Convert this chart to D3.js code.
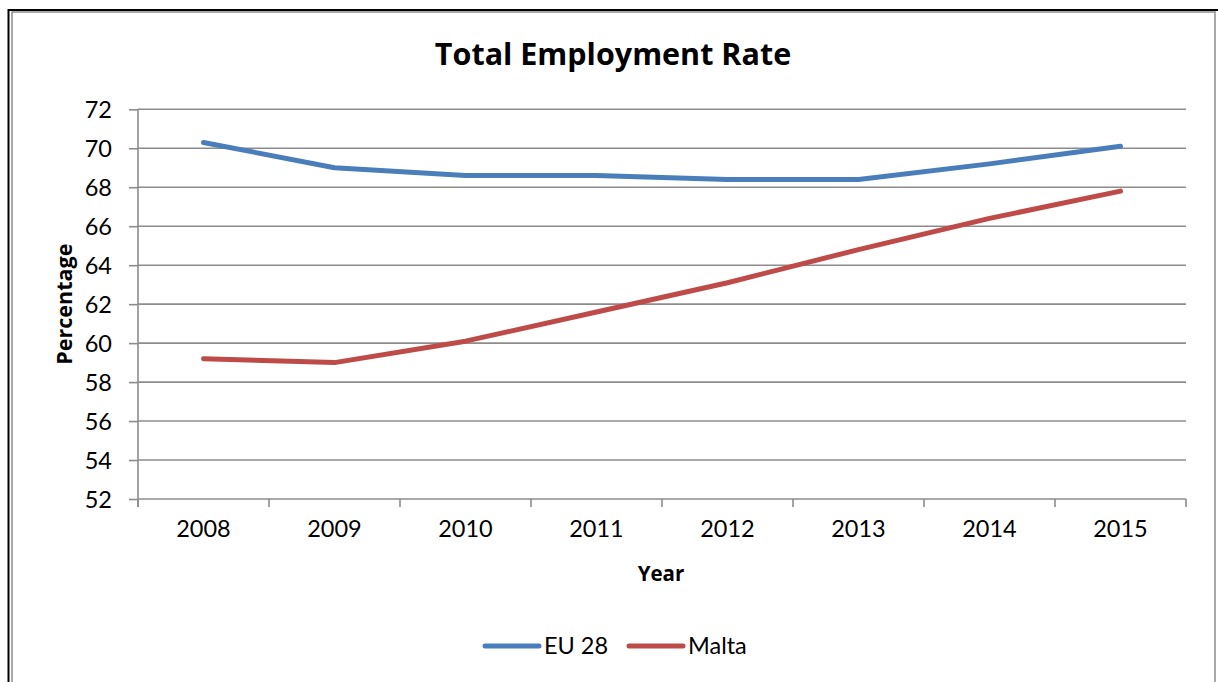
<!DOCTYPE html>
<html>
<head>
<meta charset="utf-8">
<script src="https://cdn.jsdelivr.net/npm/d3@7"></script>
<style>
  html, body { margin: 0; padding: 0; background: #fff; }
  svg { display: block; }
  text { font-family: Lato, "Open Sans", "Liberation Sans", sans-serif; fill: #000; }
  .title { font-family: "Open Sans", Lato, sans-serif; font-weight: bold; }
</style>
</head>
<body>
<svg id="chart" width="1218" height="682"></svg>
<script>
// Employment rate (%) by year
const years = ["2008", "2009", "2010", "2011", "2012", "2013", "2014", "2015"];
const eu28  = [70.3, 69.0, 68.6, 68.6, 68.4, 68.4, 69.2, 70.1];
const malta = [59.2, 59.0, 60.1, 61.6, 63.1, 64.8, 66.4, 67.8];
const yTicks = [52, 54, 56, 58, 60, 62, 64, 66, 68, 70, 72];
const seriesNames = ["EU 28", "Malta"];
const seriesColors = ["#4A7EBB", "#BE4B48"];

const svg = d3.select("#chart");
const W = 1218, H = 682;
const plot = { left: 138, right: 1186, top: 109.3, bottom: 499 };

// Outer frame: dark top/left edge with a grey inner border
svg.append("line").attr("x1", 8.5).attr("y1", 10).attr("x2", W).attr("y2", 10)
  .attr("stroke", "#000").attr("stroke-width", 2);
svg.append("line").attr("x1", 8.5).attr("y1", 9).attr("x2", 8.5).attr("y2", H)
  .attr("stroke", "#000").attr("stroke-width", 2);
svg.append("rect").attr("x", 12).attr("y", 12).attr("width", 1203).attr("height", H)
  .attr("fill", "none").attr("stroke", "#8c8c8c").attr("stroke-width", 1.5);

const x = d3.scaleBand().domain(years).range([plot.left, plot.right]);
const y = d3.scaleLinear().domain([52, 72]).range([plot.bottom, plot.top]);

// Horizontal gridlines
svg.append("g").selectAll("line").data(yTicks.filter(d => d !== 52)).join("line")
  .attr("x1", plot.left).attr("x2", plot.right)
  .attr("y1", d => y(d)).attr("y2", d => y(d))
  .attr("stroke", "#8c8c8c").attr("stroke-width", 1.6);

// Y axis
const yAxis = svg.append("g").attr("transform", `translate(${plot.left},0)`)
  .call(d3.axisLeft(y).tickValues(yTicks).tickSize(9).tickPadding(17).tickFormat(d3.format("d")));
yAxis.select(".domain").attr("stroke", "#8c8c8c").attr("stroke-width", 1.6)
  .attr("d", `M0,${plot.top}V${plot.bottom + 8}`);
yAxis.selectAll(".tick line").attr("stroke", "#8c8c8c").attr("stroke-width", 1.6);
yAxis.selectAll(".tick text").attr("font-size", 23.5).attr("font-family", null).attr("dy", "0.35em");

// X axis with ticks at category boundaries
const xAxis = svg.append("g").attr("transform", `translate(0,${plot.bottom})`)
  .call(d3.axisBottom(x).tickSize(0).tickPadding(33));
xAxis.select(".domain").attr("stroke", "#8c8c8c").attr("stroke-width", 1.6)
  .attr("d", `M${plot.left},0H${plot.right}`);
xAxis.selectAll(".tick text").attr("font-size", 23.5).attr("font-family", null).attr("dy", "0.2em");
const boundaries = years.map(d => x(d)).concat([x(years[years.length - 1]) + x.bandwidth()]);
xAxis.append("g").selectAll("line").data(boundaries).join("line")
  .attr("x1", d => d).attr("x2", d => d).attr("y1", 0).attr("y2", 8)
  .attr("stroke", "#8c8c8c").attr("stroke-width", 1.6);

// Series lines
const line = d3.line().x((d, i) => x(years[i]) + x.bandwidth() / 2).y(d => y(d));
[eu28, malta].forEach((vals, i) => {
  svg.append("path").datum(vals)
    .attr("d", line)
    .attr("fill", "none")
    .attr("stroke", seriesColors[i])
    .attr("stroke-width", 5)
    .attr("stroke-linecap", "round")
    .attr("stroke-linejoin", "round");
});

// Titles
svg.append("text").attr("class", "title").attr("x", 613).attr("y", 65)
  .attr("text-anchor", "middle").attr("font-size", 30.5)
  .text("Total Employment Rate");
svg.append("text").attr("class", "title").attr("x", 661).attr("y", 581)
  .attr("text-anchor", "middle").attr("font-size", 20.5)
  .text("Year");
svg.append("text").attr("class", "title")
  .attr("transform", `translate(72,${(plot.top + plot.bottom) / 2}) rotate(-90)`)
  .attr("text-anchor", "middle").attr("font-size", 21.5)
  .text("Percentage");

// Legend
const legendItems = [
  { name: seriesNames[0], color: seriesColors[0], x0: 485 },
  { name: seriesNames[1], color: seriesColors[1], x0: 629 }
];
const lg = svg.append("g");
legendItems.forEach(it => {
  lg.append("line").attr("x1", it.x0).attr("x2", it.x0 + 54).attr("y1", 646).attr("y2", 646)
    .attr("stroke", it.color).attr("stroke-width", 5).attr("stroke-linecap", "round");
  lg.append("text").attr("x", it.x0 + 59).attr("y", 654).attr("font-size", 23.5).text(it.name);
});
</script>
</body>
</html>
